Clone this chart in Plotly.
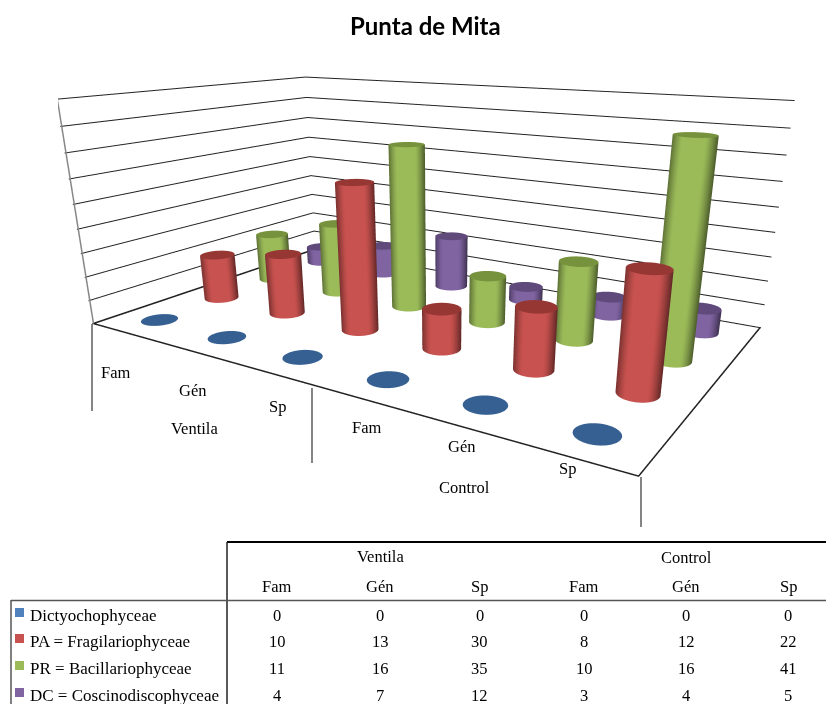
import numpy as np
import plotly.graph_objects as go

title = "Punta de Mita"
groups = ["Ventila", "Control"]
categories = ["Fam", "Gén", "Sp", "Fam", "Gén", "Sp"]
series_names = ["Dictyochophyceae", "PA = Fragilariophyceae", "PR = Bacillariophyceae", "DC = Coscinodiscophyceae"]
dictyo = [0, 0, 0, 0, 0, 0]
pa = [10, 13, 30, 8, 12, 22]
pr = [11, 16, 35, 10, 16, 41]
dc = [4, 7, 12, 3, 4, 5]
series_values = [dictyo, pa, pr, dc]
side_colors = [(79, 129, 189), (200, 82, 79), (155, 187, 89), (128, 100, 162)]
cap_colors = [(55, 96, 146), (150, 55, 52), (118, 146, 60), (96, 74, 123)]

# Scene box and camera
VIEW_CENTRE_X = 442.0
ASPECT = (1.0, 0.60292, 0.38098)
EYE = (0.76814, -1.16441, 0.31606)
CENTRE = (0.27379, -0.37773, -0.05373)
UP = (0.01575, 0.00997, 1)

fig = go.Figure()
sx, sy = ASPECT[0] / 6, ASPECT[1] / 4
radius = 0.19 * sx
theta = np.linspace(0, 2 * np.pi, 97)


def shade_at(q):
    # Flat bright band across the cylinder, darkening towards both silhouettes
    if q < -0.55:
        return 1 - 0.40 * ((-q - 0.55) / 0.45) ** 1.3
    if q > 0.45:
        return 1 - 0.52 * ((q - 0.45) / 0.55) ** 1.3
    return 1.0


# One mesh per series: a shaded wall and a flat cap for every category
for name, vals, sc, cc, yi in zip(series_names, series_values, side_colors, cap_colors, range(4)):
    X, Y, Z, I, J, K, C = [], [], [], [], [], [], []
    for xi, v in enumerate(vals):
        base = len(X)
        vx, vy = EYE[0] - (xi - 2.5) * sx, EYE[1] - (yi - 1.5) * sy
        rx, ry = np.array([-vy, vx]) / np.hypot(vx, vy)
        for t in theta:
            nx, ny = np.cos(t), np.sin(t)
            q = nx * rx + ny * ry
            col = "rgb(%d,%d,%d)" % tuple(int(c * shade_at(q)) for c in sc)
            for zz in (0, v):
                X.append(xi + radius / sx * nx)
                Y.append(yi + radius / sy * ny)
                Z.append(zz)
                C.append(col)
        for m in range(len(theta) - 1):
            a_, b_, c_, d_ = base + 2 * m, base + 2 * m + 1, base + 2 * m + 2, base + 2 * m + 3
            I += [a_, b_]
            J += [c_, c_]
            K += [b_, d_]
        centre = len(X)
        capcol = "rgb(%d,%d,%d)" % cc
        X.append(xi)
        Y.append(yi)
        Z.append(v)
        C.append(capcol)
        for t in theta:
            X.append(xi + radius / sx * np.cos(t))
            Y.append(yi + radius / sy * np.sin(t))
            Z.append(v)
            C.append(capcol)
        for m in range(len(theta) - 1):
            I.append(centre)
            J.append(centre + 1 + m)
            K.append(centre + 2 + m)
    fig.add_trace(go.Mesh3d(x=X, y=Y, z=Z, i=I, j=J, k=K, vertexcolor=C, name=name, hoverinfo="skip",
                            lighting=dict(ambient=1, diffuse=0, specular=0, roughness=1, fresnel=0)))

# Floor outline and the vertical axis edge
fig.add_trace(go.Scatter3d(x=[-0.5, -0.5, 5.5, 5.5], y=[3.5, -0.5, -0.5, 3.5], z=[0, 0, 0, 0], mode="lines",
                           line=dict(color="#222222", width=3), hoverinfo="skip", showlegend=False))
fig.add_trace(go.Scatter3d(x=[-0.5, -0.5], y=[-0.5, -0.5], z=[0, 45], mode="lines",
                           line=dict(color="#888888", width=3), hoverinfo="skip", showlegend=False))

hidden = dict(showgrid=False, showticklabels=False, zeroline=False, showline=False, ticks="", title="",
              showbackground=False, showspikes=False)
shapes = []


def seg(x0, y0, x1, y1, color="black", width=1):
    shapes.append(dict(type="line", xref="paper", yref="paper", x0=x0 / 826, x1=x1 / 826,
                       y0=1 - y0 / 704, y1=1 - y1 / 704, line=dict(color=color, width=width)))


def text(x, y, s, anchor="center", size=16.5, family="Liberation Serif"):
    fig.add_annotation(x=x / 826, y=1 - y / 704, xref="paper", yref="paper", text=s, showarrow=False,
                       xanchor=anchor, yanchor="middle", font=dict(size=size, family=family, color="black"))


# Group separators hanging below the front floor edge
seg(92, 324, 92, 411, "#333333", 1.2)
seg(312, 388, 312, 463, "#333333", 1.2)
seg(641, 477, 641, 527, "#333333", 1.2)

# Data table rules
seg(227, 542, 826, 542, "black", 2)
seg(227, 542, 227, 704, "#222222", 1.5)
seg(11, 600.5, 826, 600.5, "#555555", 1.5)
seg(11, 600, 11, 704, "#555555", 1.5)

text(425, 25, "<b>" + title + "</b>", size=24, family="Lato")
for x, y, s in zip((116, 193, 277, 367, 462, 567), (372, 390, 406, 427, 447, 468), categories):
    text(x, y, s)
text(194, 428, groups[0])
text(464, 487, groups[1])

col_x = [277, 380, 480, 584, 686, 788]
text(380, 556, groups[0])
text(686, 557, groups[1])
for x, s in zip(col_x, categories):
    text(x, 586, s)
row_y = [615, 641, 668, 695]
for y, name, vals, sc in zip(row_y, series_names, series_values, side_colors):
    shapes.append(dict(type="rect", xref="paper", yref="paper", x0=15 / 826, x1=24 / 826,
                       y0=1 - (y - 7) / 704, y1=1 - (y + 2) / 704,
                       fillcolor="rgb(%d,%d,%d)" % sc, line=dict(width=0)))
    text(28, y, name, anchor="left", size=17)
    for x, v in zip(col_x, vals):
        text(x, y, str(v))

# Axis ranges carry a small pad so the outline on the box edges is not clipped
fig.update_layout(
    width=826, height=704, margin=dict(l=0, r=0, t=0, b=0), paper_bgcolor="white", showlegend=False, shapes=shapes,
    scene=dict(
        domain=dict(x=[(2 * VIEW_CENTRE_X - 826) / 826, 1], y=[0, 1]),
        aspectmode="manual", aspectratio=dict(x=ASPECT[0], y=ASPECT[1], z=ASPECT[2]),
        camera=dict(eye=dict(x=EYE[0], y=EYE[1], z=EYE[2]),
                    center=dict(x=CENTRE[0], y=CENTRE[1], z=CENTRE[2]),
                    up=dict(x=UP[0], y=UP[1], z=UP[2])),
        xaxis=dict(range=[-0.51, 5.51], **hidden),
        yaxis=dict(range=[-0.51, 3.51], **hidden),
        zaxis=dict(range=[-0.1, 45.1], tick0=0, dtick=5, showgrid=True, gridcolor="#222222", gridwidth=2,
                   showticklabels=False, zeroline=False, showline=False, ticks="", title="",
                   showbackground=False, showspikes=False),
    ),
)
fig.write_html("out.html")
